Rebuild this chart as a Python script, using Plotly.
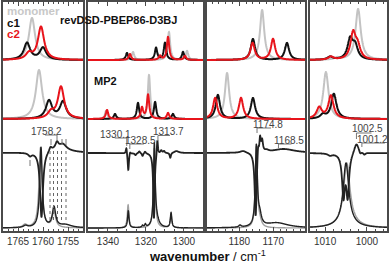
import numpy as np
import plotly.graph_objects as go

W, H = 390, 264
ML, MR, MT, MB = 0, 0, 2, 33

# ---------------- axes (reversed wavenumber ranges) ----------------
RANGES = [(1768.0, 1752.0), (1350.5, 1290.0), (1189.5, 1160.7), (1013.6, 995.2)]
TICKS = [[1765, 1760, 1755], [1340, 1320, 1300], [1180, 1170], [1010, 1000]]
MINOR = [1, 5, 2, 2]
PANEL_PX = [(3, 83), (88, 203), (207, 305), (310, 387)]

# ---------------- simulated spectra: (position, height) ----------------
REV_MONO = [[(1762.2, 42)],
            [(1326.8, 8), (1307.9, 28), (1298.4, 9)],
            [(1173.3, 50)],
            [(1007.1, 2), (1002.1, 51)]]
REV_C1 = [[(1763.2, 17), (1760.0, 12)],
          [(1330.0, 7), (1314.7, 12), (1310.0, 17), (1300.5, 8)],
          [(1176.0, 21), (1166.0, 17)],
          [(1008.8, 3), (1004.0, 20), (1002.8, 13)]]
REV_C2 = [[(1762.8, 6), (1760.4, 33)],
          [(1328.4, 6), (1312.6, 4), (1308.4, 23), (1299.5, 4)],
          [(1176.1, 17), (1170.1, 21)],
          [(1008.6, 3), (1003.3, 26), (1002.2, 12)]]
MP2_MONO = [[(1760.8, 49)],
            [(1341.0, 8), (1318.4, 44)],
            [(1183.6, 46)],
            [(1009.8, 47)]]
MP2_C1 = [[(1758.8, 18), (1756.0, 17)],
          [(1336.3, 5), (1324.2, 16), (1315.2, 17), (1305.8, 5)],
          [(1186.3, 24), (1176.0, 21)],
          [(1010.5, 4), (1007.9, 25)]]
MP2_C2 = [[(1758.4, 6), (1756.4, 32)],
          [(1340.5, 9), (1322.1, 11), (1318.9, 24), (1308.4, 6)],
          [(1187.1, 21), (1179.5, 21)],
          [(1011.4, 11), (1008.6, 23)]]
SIM_HWHM = 0.75

# ---------------- experimental: (position, amplitude, hwhm) ----------------
DIFF = [[(1762.6, -3, 0.4), (1760.3, -66, 0.35), (1758.5, 4, 0.3), (1757.2, 6, 0.35),
         (1756.0, 5, 0.8), (1757.0, 5, 2.5)],
        [(1330.3, 7, 0.35), (1329.3, -18, 0.4), (1328.4, 3, 0.4), (1325.5, -2, 0.5),
         (1323.5, 2, 0.5), (1321.8, -3, 0.4), (1320.5, 2, 0.5), (1315.8, -66, 0.45),
         (1314.0, 16, 0.35), (1312.0, 3, 0.6), (1310.5, 2, 0.5), (1307.2, -5, 0.4),
         (1304.0, 2, 1.5)],
        [(1178.9, 2, 1.0), (1175.2, -66, 0.35), (1174.5, 14, 0.25), (1173.9, 16, 0.25),
         (1173.3, 12, 0.3), (1172.0, 2, 0.8), (1167.0, 4, 4.0)],
        [(1008.8, -2, 0.6), (1005.6, -42, 0.4), (1004.6, -42, 0.4), (1002.5, 11, 0.7),
         (1001.6, -3, 0.3), (1000.6, -2, 0.3)]]
ABS_BLACK = [[(1763.5, 2, 0.5), (1760.4, 80, 0.3), (1757.8, 20, 0.4), (1755.5, 3, 1.5)],
             [(1329.3, 17, 0.45), (1321.8, 2, 0.4), (1320.3, 3, 0.4), (1315.6, 80, 0.5),
              (1314.5, 8, 1.5), (1306.8, 15, 0.45)],
             [(1179.8, 2, 0.4), (1175.0, 80, 0.35), (1174.0, 10, 0.6), (1169.0, 5, 4.0)],
             [(1005.0, 60, 0.8), (1005.0, 5, 2.5)]]
ABS_GREY = [[(1763.6, 3, 0.5), (1760.5, 80, 0.35), (1757.8, 16, 0.4)],
            [(1329.4, 23, 0.5), (1315.6, 80, 0.55), (1306.8, 13, 0.5)],
            [(1175.0, 80, 0.35), (1174.0, 6, 0.6)],
            [(1004.8, 60, 0.9), (1004.5, 5, 2.5)]]

# band markers
DOTTED_1 = [1758.6, 1757.9, 1757.1, 1756.3, 1755.4]
MARKS_1 = [1758.4, 1756.2, 1755.4, 1762.6]
LABELS = [[("1758.2", 1757.2)],
          [("1330.1", 1330.1), ("1328.5", 1328.5), ("1313.7", 1313.7)],
          [("1174.8", 1174.8), ("1168.5", 1168.5)],
          [("1002.5", 1002.5), ("1001.2", 1001.2)]]

# baselines (in axis units measured from the bottom)
REV_BASE, MP2_BASE, DIFF_BASE, ABS_BASE = 171, 112, 78, 3

GREY, RED, BLACK = "#c3c3c3", "#e8141b", "#111111"
FONT = "Liberation Sans"


def lor(x, peaks, g=None):
    y = np.zeros_like(x)
    for p in peaks:
        gg = p[2] if len(p) > 2 else g
        y += p[1] * gg ** 2 / ((x - p[0]) ** 2 + gg ** 2)
    return y


def py(pix):
    return 231 - pix


fig = go.Figure()
layout = dict(width=W, height=H, margin=dict(l=ML, r=MR, t=MT, b=MB),
              paper_bgcolor="white", plot_bgcolor="white", showlegend=False)
shapes, annots = [], []

LABEL_SPEC = {"1758.2": (-1, 131, 135, 140, 12), "1330.1": (-1, 134, 138, 146, 12),
              "1328.5": (1, 140, 144, 149, 14), "1313.7": (1, 131.5, 135.5, 141, 12),
              "1174.8": (1, 124.5, 128, 133, 14), "1168.5": (1, 140, 144, 148, 13),
              "1002.5": (1, 128, 133, 139, 15), "1001.2": (1, 139, 143, 147, 23)}

for c in range(4):
    sfx = "" if c == 0 else str(c + 1)
    xa, ya = "x" + sfx, "y" + sfx
    lo, hi = RANGES[c]
    x = np.linspace(hi, lo, 1600)
    ppu = (PANEL_PX[c][1] - PANEL_PX[c][0]) / (lo - hi)

    series = [
        (REV_BASE + lor(x, REV_MONO[c], SIM_HWHM), GREY, 2),
        (REV_BASE + lor(x, REV_C1[c], SIM_HWHM), BLACK, 2),
        (REV_BASE + lor(x, REV_C2[c], SIM_HWHM), RED, 2),
        (MP2_BASE + lor(x, MP2_MONO[c], SIM_HWHM), GREY, 2),
        (MP2_BASE + lor(x, MP2_C1[c], SIM_HWHM), BLACK, 2),
        (MP2_BASE + lor(x, MP2_C2[c], SIM_HWHM), RED, 2),
        (ABS_BASE + lor(x, ABS_GREY[c]), "#a0a0a0", 1.4),
        (ABS_BASE + lor(x, ABS_BLACK[c]), "#222222", 1.4),
        (DIFF_BASE + lor(x, DIFF[c]), "#222222", 1.8),
    ]
    for yv, color, width in series:
        fig.add_trace(go.Scatter(x=x, y=yv, mode="lines", xaxis=xa, yaxis=ya,
                                 line=dict(color=color, width=width, simplify=False),
                                 hoverinfo="skip"))

    layout["xaxis" + sfx] = dict(
        domain=[PANEL_PX[c][0] / W, PANEL_PX[c][1] / W], range=[lo, hi], anchor=ya,
        showline=True, linecolor="#4a4a4a", linewidth=1.5, mirror="ticks",
        ticks="inside", ticklen=4, tickcolor="#4a4a4a", tickwidth=1,
        tickvals=TICKS[c], ticktext=[str(t) for t in TICKS[c]], tickangle=0,
        tickfont=dict(family=FONT, size=10, color="#333"),
        minor=dict(ticks="inside", ticklen=2.5, dtick=MINOR[c], tickcolor="#4a4a4a",
                   tick0=TICKS[c][0], showgrid=False),
        showgrid=False, zeroline=False, fixedrange=True)
    layout["yaxis" + sfx] = dict(
        domain=[0, 1], range=[0, 229], anchor=xa, showline=True, linecolor="#4a4a4a",
        linewidth=1.5, mirror=True, ticks="", showticklabels=False, showgrid=False,
        zeroline=False, fixedrange=True)

    # peak labels with brackets
    for txt, v in LABELS[c]:
        d, ty, hy, vy, span_px = LABEL_SPEC[txt]
        span = span_px / ppu
        shapes.append(dict(type="line", xref=xa, yref=ya, x0=v, x1=v - d * span,
                           y0=py(hy), y1=py(hy), line=dict(color="#777", width=1)))
        shapes.append(dict(type="line", xref=xa, yref=ya, x0=v, x1=v,
                           y0=py(hy), y1=py(vy), line=dict(color="#777", width=1)))
        annots.append(dict(text=txt, xref=xa, yref=ya, x=v - d * (11 / ppu), y=py(ty),
                           showarrow=False, font=dict(family=FONT, size=10, color="#444"),
                           xanchor="center", yanchor="middle"))

# dotted guide lines and band markers in first panel
for v in DOTTED_1:
    shapes.append(dict(type="line", xref="x", yref="y", x0=v, x1=v, y0=py(151), y1=py(223),
                       line=dict(color="#666", width=1, dash="dot")))
for i, v in enumerate(MARKS_1):
    y0, y1 = ((139, 145) if i < 3 else (160, 166))
    shapes.append(dict(type="line", xref="x", yref="y", x0=v, x1=v, y0=py(y0), y1=py(y1),
                       line=dict(color="#777", width=1)))


def paper(px, pyy):
    return px / W, (231 - pyy) / 229


for txt, px, pyy, col, sz in [
        ("<b>monomer</b>", 5, 11, "#c8c8c8", 11.5),
        ("<b>c1</b>", 5, 22.5, "#111", 11.5),
        ("<b>c2</b>", 5, 34, RED, 11.5),
        ("<b>revDSD-PBEP86-D3BJ</b>", 58, 20, "#111", 11),
        ("<b>MP2</b>", 92, 81, "#111", 11)]:
    xx, yy = paper(px, pyy)
    annots.append(dict(text=txt, xref="paper", yref="paper", x=xx, y=yy, showarrow=False,
                       xanchor="left", yanchor="middle",
                       font=dict(family=FONT, size=sz, color=col)))

xx, yy = paper(207, 256)
annots.append(dict(text="<b>wavenumber</b> / cm<sup>-1</sup>", xref="paper", yref="paper",
                   x=xx, y=yy, showarrow=False, xanchor="center", yanchor="middle",
                   font=dict(family=FONT, size=13, color="#111")))

layout["shapes"] = shapes
layout["annotations"] = annots
fig.update_layout(**layout)
fig.write_html("out.html", config={"displayModeBar": False},
               post_script="document.body.style.margin='0';document.body.style.padding='0';")
